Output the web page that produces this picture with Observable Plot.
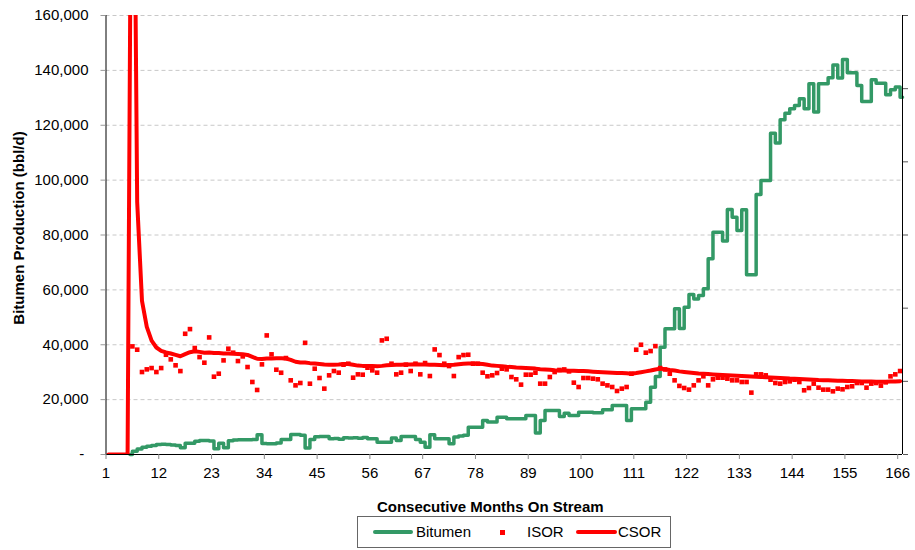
<!DOCTYPE html>
<html>
<head>
<meta charset="utf-8">
<script src="https://cdn.jsdelivr.net/npm/d3@7"></script>
<script src="https://cdn.jsdelivr.net/npm/@observablehq/plot@0.6"></script>
<style>
  html, body { margin: 0; padding: 0; background: #fff; }
  body { width: 915px; height: 550px; position: relative; overflow: hidden;
         font-family: "Liberation Sans", Arial, sans-serif; }
  #chart { position: absolute; left: 0; top: 0; }
  #legend { position: absolute; left: 357px; top: 516px; width: 314px; height: 32px;
            box-sizing: border-box; border: 1px solid #666; background: #fff; }
  #legend .txt { position: absolute; top: 0; line-height: 30px; font-size: 15px; color: #000; white-space: nowrap; }
  #legend .ln { position: absolute; height: 4px; border-radius: 2px; }
  #legend .sq { position: absolute; width: 5px; height: 5px; background: #ff0000; }
</style>
</head>
<body>
<div id="chart"></div>
<div id="legend">
  <span class="ln" style="left:15px;top:13px;width:40px;background:#339966"></span>
  <span class="txt" style="left:58px">Bitumen</span>
  <span class="sq" style="left:142px;top:12.5px"></span>
  <span class="txt" style="left:169px">ISOR</span>
  <span class="ln" style="left:218px;top:13px;width:41px;background:#ff0000"></span>
  <span class="txt" style="left:260px">CSOR</span>
</div>
<script>
// ---- Data ----
const xTitle = "Consecutive Months On Stream";
const yTitle = "Bitumen Production (bbl/d)";
const seriesNames = ["Bitumen", "ISOR", "CSOR"];

// x axis: months on stream
const xDomain = [1, 167];
const xTickLabels = [1, 12, 23, 34, 45, 56, 67, 78, 89, 100, 111, 122, 133, 144, 155, 166];

// y axis (bbl/d)
const yDomain = [0, 160000];
const yTickValues = [0, 20000, 40000, 60000, 80000, 100000, 120000, 140000, 160000];

// secondary (SOR) axis: unlabelled, 6 divisions spanning the same height
const sorAxisMax = 12;
const sorAxisTicks = [0, 2, 4, 6, 8, 10, 12];

// Bitumen production (bbl/d), months 6..167
const bitumenFirstMonth = 6;
const bitumen = [
  0,1200,2000,2600,3000,3300,3600,3700,3600,3500,
  3300,2500,4100,4100,4800,5100,5100,4900,2100,4100,
  2500,5000,5300,5350,5400,5350,5500,7200,4000,3900,
  3900,4200,5450,5450,7300,7300,7000,2400,5500,6500,
  6560,6560,5700,5800,5600,6100,6000,6100,5900,6200,
  5700,5700,4500,4500,4500,6050,5100,6560,6560,6560,
  5500,4500,2660,7170,5720,5720,5720,3900,6400,6740,
  7000,9950,9950,9950,12400,11800,11800,13600,13600,13000,
  13000,13000,13000,14200,14200,7800,12400,16000,16000,16000,
  13850,15050,14200,14200,15400,15400,15400,15200,15200,16300,
  16300,17860,17860,17860,12400,16650,16650,16650,19070,24530,
  28430,39100,45800,45800,53100,45900,53700,58300,56700,57950,
  60400,71300,81000,81000,77800,89300,86500,81650,89200,65500,
  65500,94770,99870,99870,117100,113500,122000,124400,126000,127200,
  129650,126000,135100,124800,135100,135100,137300,142000,137200,144000,
  139100,139100,134500,128700,128700,136600,135300,135300,131100,132900,
  133900,130200
];

// ISOR, expressed on the primary-axis height (bbl/d-equivalent), months 6..166
const isorFirstMonth = 6;
const isor = [
  39400,38200,30060,31030,31500,30060,31500,36360,34670,32500,
  30400,44000,45700,38800,35500,33450,42670,28360,29450,34300,
  38550,37100,34060,35760,31880,26430,23520,32850,43400,36500,
  30900,29800,35150,27030,25200,26060,40700,25800,31270,27880,
  24000,28850,30420,29820,32730,33090,28000,29210,29090,31640,
  30670,29820,41580,42180,33090,29210,29820,32730,30420,33090,
  29210,33330,28600,38300,36240,33090,32240,28600,35500,36240,
  36360,33090,33090,29820,28500,28850,29700,31270,31030,28240,
  27400,25460,29090,29090,29820,25820,25820,28240,30060,30800,
  31000,30300,26180,24600,27880,27880,27640,27400,25820,25200,
  24600,23150,24000,24600,29450,38180,40000,37100,37700,39500,
  31500,31000,29450,27030,25000,24240,23640,25200,27030,28500,
  25200,27400,28000,28000,27640,27030,27030,26430,26430,22550,
  29210,29210,28850,27270,26060,25820,26430,26670,27270,26430,
  23400,24240,25820,24360,23640,23640,23030,24000,23760,24600,
  24850,26060,26060,24360,25820,26060,25090,26300,28480,29210,
  30420
];

// CSOR, expressed on the primary-axis height (bbl/d-equivalent), months 1..166
const csorFirstMonth = 1;
const csor = [
  0,0,0,0,0,300000,92000,56000,46500,41500,
  39000,37800,37200,36800,36300,35800,36600,37300,37600,37400,
  37100,37200,37000,37000,36800,36800,36700,36600,36500,36300,
  35600,34900,34800,35000,35000,35100,35100,35000,34500,33800,
  33500,33500,33300,33200,33000,32800,32700,32700,32800,33000,
  33000,32700,32400,32300,32300,32300,32200,32300,32500,32600,
  32700,32700,32800,32800,32900,32800,32800,32700,32700,32600,
  32500,32600,32700,32900,33100,33200,33200,33100,33000,32700,
  32400,32300,32200,32000,31900,31700,31600,31500,31400,31300,
  31100,31000,30900,30700,30600,30600,30500,30500,30400,30400,
  30300,30200,30100,30000,29900,29800,29700,29700,29600,29450,
  29700,30000,30300,30600,31000,31300,31100,30800,30600,30300,
  30100,29900,29700,29500,29400,29300,29200,29100,29000,28900,
  28800,28700,28600,28500,28400,28300,28250,28200,28100,28000,
  27900,27800,27700,27650,27550,27450,27350,27250,27150,27100,
  27050,27000,26900,26850,26800,26750,26700,26650,26600,26600,
  26550,26550,26550,26600,26650,26700
];

const colors = { Bitumen: "#339966", ISOR: "#ff0000", CSOR: "#ff0000" };

// ---- Build rows ----
const toRows = (arr, first) => arr.map((v, i) => ({ month: first + i, v }));
const bitumenRows = toRows(bitumen, bitumenFirstMonth);
const isorRows = toRows(isor, isorFirstMonth);
const csorRows = toRows(csor, csorFirstMonth);
const sorToY = s => s * (yDomain[1] / sorAxisMax);
const fmt = d3.format(",");

const plot = Plot.plot({
  width: 915,
  height: 515,
  marginTop: 15,
  marginLeft: 105.5,
  marginRight: 13,
  marginBottom: 61,
  x: { domain: xDomain },
  y: { domain: yDomain },
  style: { fontFamily: "Liberation Sans, Arial, sans-serif", fontSize: "15px", color: "#000", background: "#fff" },
  marks: [
    Plot.gridY(yTickValues.filter(d => d > 0), { stroke: "#c8c8c8", strokeOpacity: 1, strokeDasharray: "4,3" }),
    Plot.line(bitumenRows, { x: "month", y: "v", curve: "step", stroke: colors.Bitumen, strokeWidth: 3.5 }),
    Plot.dot(isorRows, { x: d => d.month + 0.5, y: "v", symbol: "square", r: 2.6, fill: colors.ISOR, stroke: "none" }),
    Plot.line(csorRows, { x: d => d.month + 0.5, y: "v", stroke: colors.CSOR, strokeWidth: 4, clip: true }),
    Plot.ruleY([yDomain[0]], { stroke: "#000", strokeWidth: 1 }),
    Plot.ruleX(xDomain, { stroke: "#000", strokeWidth: 1 }),
    Plot.axisX({ ticks: xTickLabels, tickFormat: d => String(d), tickSize: 5, tickPadding: 8, stroke: "#888", color: "#000", label: null }),
    Plot.axisY({ ticks: yTickValues, tickFormat: d => d === 0 ? "-\u00a0" : fmt(d), tickSize: 5, tickPadding: 12.5, stroke: "#999", color: "#000", label: null }),
    Plot.axisY({ anchor: "right", ticks: sorAxisTicks.map(sorToY), tickFormat: () => "", tickSize: 5, stroke: "#555", label: null }),
    Plot.text([xTitle], { text: d => d, frameAnchor: "bottom", dy: 57, dx: -14, lineAnchor: "bottom", fontSize: 15, fontWeight: "bold", fill: "#000" }),
    Plot.text([yTitle], { text: d => d, frameAnchor: "left", rotate: -90, dx: -86.5, dy: -7, lineAnchor: "middle", textAnchor: "middle", fontSize: 15, fontWeight: "bold", fill: "#000" })
  ]
});
document.getElementById("chart").appendChild(plot);
</script>
</body>
</html>
